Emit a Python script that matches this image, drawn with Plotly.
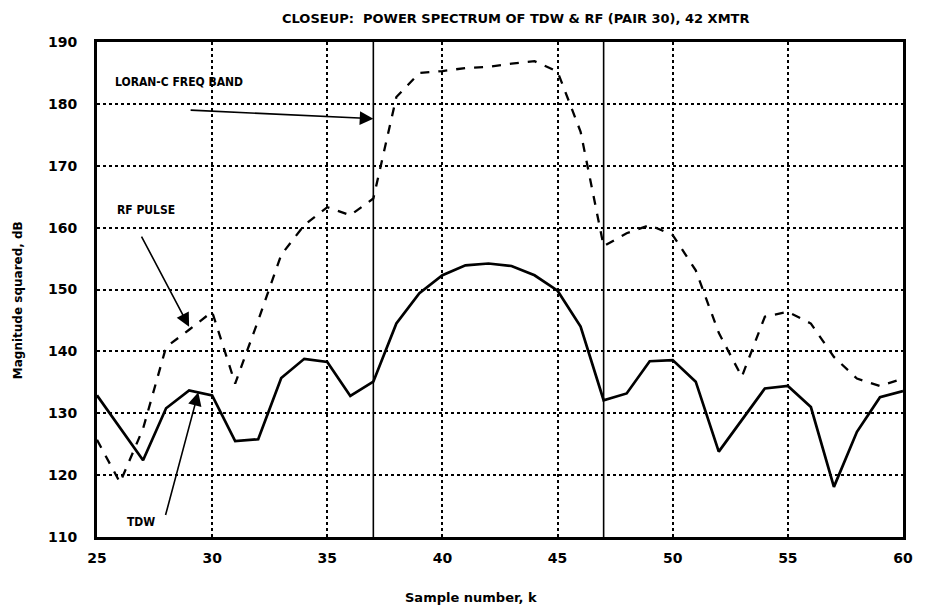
import plotly.graph_objects as go

k = list(range(25, 61))
tdw = [132.9, 127.6, 122.4, 130.8, 133.7, 132.9, 125.5, 125.8, 135.7, 138.8,
       138.3, 132.8, 135.1, 144.5, 149.4, 152.3, 153.9, 154.2, 153.8, 152.3,
       149.8, 144.0, 132.1, 133.2, 138.4, 138.6, 135.1, 123.8, 128.9, 134.0,
       134.4, 131.0, 118.1, 127.0, 132.6, 133.6]
rf = [125.7, 118.8, 127.5, 140.7, 143.5, 146.4, 134.8, 145.0, 155.6, 160.4,
      163.3, 162.0, 164.7, 181.1, 185.0, 185.3, 185.8, 186.0, 186.5, 186.9,
      185.2, 175.5, 157.0, 159.1, 160.4, 158.8, 153.1, 143.0, 135.9, 145.6,
      146.4, 144.5, 139.1, 135.6, 134.4, 135.6]
x_ticks = [25, 30, 35, 40, 45, 50, 55, 60]
y_ticks = [110, 120, 130, 140, 150, 160, 170, 180, 190]
band_edges = [37, 47]

fig = go.Figure()
for b in band_edges:
    fig.add_trace(go.Scatter(x=[b, b], y=[110, 190], mode="lines",
                             line=dict(color="black", width=1.6),
                             showlegend=False, hoverinfo="skip"))
fig.add_trace(go.Scatter(x=k, y=rf, mode="lines", name="RF PULSE",
                         line=dict(color="black", width=2.3, dash="dash")))
fig.add_trace(go.Scatter(x=k, y=tdw, mode="lines", name="TDW",
                         line=dict(color="black", width=2.7)))

lab_font = dict(family="DejaVu Sans Condensed, DejaVu Sans", size=12, color="black", weight="bold")
annos = [
    dict(x=37, y=177.6, ax=29.0, ay=179.0),
    dict(x=29.0, y=144.0, ax=26.9, ay=158.8),
    dict(x=29.4, y=133.4, ax=27.96, ay=113.3),
]
for a in annos:
    fig.add_annotation(x=a["x"], y=a["y"], ax=a["ax"], ay=a["ay"], xref="x", yref="y",
                       axref="x", ayref="y", text="", showarrow=True,
                       arrowhead=2, arrowsize=1.7, arrowwidth=1.6, arrowcolor="black")
fig.add_annotation(x=25.69, y=183.5, text="LORAN-C FREQ BAND", showarrow=False,
                   xanchor="left", yanchor="middle", font=lab_font)
fig.add_annotation(x=25.77, y=162.8, text="RF PULSE", showarrow=False,
                   xanchor="left", yanchor="middle", font=lab_font)
fig.add_annotation(x=26.2, y=112.5, text="TDW", showarrow=False,
                   xanchor="left", yanchor="middle", font=lab_font)

fig.add_annotation(xref="paper", yref="paper", x=0.519, y=1.048,
                   text="CLOSEUP:  POWER SPECTRUM OF TDW &amp; RF (PAIR 30), 42 XMTR",
                   showarrow=False, xanchor="center", yanchor="middle",
                   font=dict(family="DejaVu Sans", size=13, color="black", weight=600))
fig.add_annotation(xref="paper", yref="paper", x=0.464, y=-0.122,
                   text="Sample number, k", showarrow=False,
                   xanchor="center", yanchor="middle",
                   font=dict(family="DejaVu Sans", size=13, color="black", weight="bold"))
fig.add_annotation(xref="paper", yref="paper", x=-0.097, y=0.478,
                   text="Magnitude squared, dB", showarrow=False, textangle=-90,
                   xanchor="center", yanchor="middle",
                   font=dict(family="DejaVu Sans", size=12, color="black", weight="bold"))

axis_common = dict(showline=True, linecolor="black", linewidth=3, mirror=True,
                   showgrid=True, gridcolor="black", griddash="dot", gridwidth=2,
                   zeroline=False, ticks="",
                   tickfont=dict(family="DejaVu Sans", size=14, color="black", weight="bold"))
fig.update_xaxes(range=[25, 60], tickvals=x_ticks, ticktext=[str(v) for v in x_ticks],
                 ticklabelstandoff=6, **axis_common)
fig.update_yaxes(range=[110, 190], tickvals=y_ticks, ticktext=[str(v) for v in y_ticks],
                 ticklabelstandoff=14, **axis_common)
fig.update_layout(width=925, height=612, showlegend=False,
                  margin=dict(l=97, r=13, t=42, b=75),
                  plot_bgcolor="white", paper_bgcolor="white")
fig.write_html("out.html")
